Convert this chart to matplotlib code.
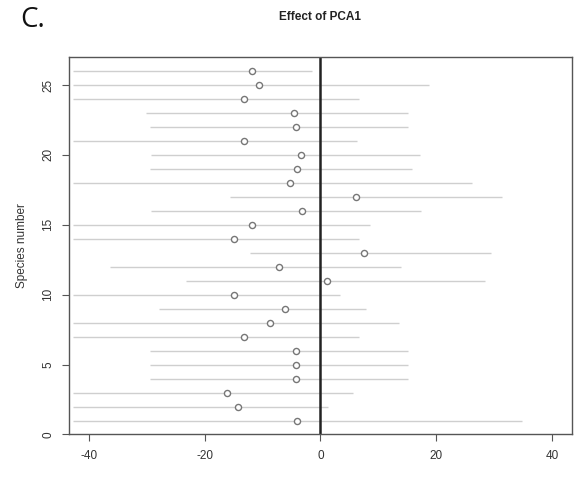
import matplotlib
matplotlib.use("Agg")
from matplotlib import pyplot as plt
import numpy as np

# species 1..26, point estimate and interval ends
species = np.arange(1, 27)
estimate = np.array([-4.1, -14.3, -16.2, -4.3, -4.3, -4.3, -13.2, -8.7, -6.2, -14.9,
                     1.2, -7.1, 7.6, -14.9, -11.8, -3.2, 6.2, -5.2, -4.0, -3.3,
                     -13.3, -4.3, -4.5, -13.2, -10.6, -11.8])
lower = np.array([-42.7, -42.7, -42.7, -29.4, -29.4, -29.4, -42.7, -42.7, -27.9, -42.7,
                  -23.3, -36.3, -12.1, -42.7, -42.7, -29.2, -15.7, -42.7, -29.4, -29.2,
                  -42.7, -29.5, -30.2, -42.7, -42.7, -42.7])
upper = np.array([34.9, 1.3, 5.6, 15.1, 15.1, 15.1, 6.6, 13.5, 7.9, 3.3,
                  28.4, 13.9, 29.4, 6.6, 8.6, 17.4, 31.3, 26.2, 15.8, 17.2,
                  6.3, 15.1, 15.2, 6.6, 18.8, -1.4])

xticks = [-40, -20, 0, 20, 40]
yticks = [0, 5, 10, 15, 20, 25]

plt.rcParams['font.family'] = ['Liberation Sans', 'DejaVu Sans']
plt.rcParams['axes.unicode_minus'] = False
fig = plt.figure(figsize=(5.76, 4.84), dpi=100)
ax = fig.add_axes([0.1203, 0.1023, 0.8722, 0.7799])

ax.hlines(species, lower, upper, color='#cfcfcf', lw=1.0, zorder=1)
ax.axvline(0, color='#222222', lw=1.8, zorder=2)
ax.plot(estimate, species, 'o', mfc='white', mec='#777777', mew=1.0, ms=4.4, zorder=3)

ax.set_xlim(-43.4, 43.4)
ax.set_ylim(0, 27)
ax.set_xticks(xticks)
ax.set_yticks(yticks)
ax.set_yticklabels([str(t) for t in yticks], rotation=90, va='center')
ax.tick_params(length=5, width=0.8, color='#555555', labelsize=8.5,
               labelcolor='#333333', pad=6)
for s in ax.spines.values():
    s.set_color('#555555')
    s.set_linewidth(1.0)
ax.set_ylabel('Species number', fontsize=8.5, color='#333333', labelpad=10)

fig.text(0.556, 0.965, 'Effect of PCA1', ha='center', va='center',
         fontsize=8.5, fontweight='bold', color='#222222')
fig.text(0.036, 0.958, 'C.', ha='left', va='center', fontsize=20,
         family=['Open Sans', 'DejaVu Sans'], color='#111111')

fig.savefig('out.png', dpi=100)
